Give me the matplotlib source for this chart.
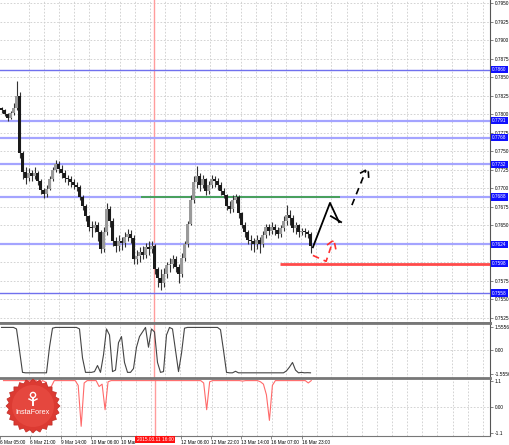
import numpy as np
import matplotlib
matplotlib.use('Agg')
import matplotlib.pyplot as plt
from matplotlib.patches import Polygon, Circle

plt.rcParams['font.family'] = ['Liberation Sans', 'DejaVu Sans']

# hourly bars (bar index 0..103)
close = [0.7806, 0.7800, 0.7795, 0.7801, 0.7808, 0.7825, 0.7748, 0.7722, 0.7714, 0.7720,
         0.7716, 0.7721, 0.7710, 0.7697, 0.7692, 0.7699, 0.7712, 0.7725, 0.7732, 0.7726,
         0.7720, 0.7714, 0.7712, 0.7708, 0.7704, 0.7702, 0.7688, 0.7676, 0.7662, 0.7648,
         0.7646, 0.7650, 0.7640, 0.7618, 0.7640, 0.7672, 0.7655, 0.7628, 0.7622, 0.7628,
         0.7626, 0.7634, 0.7638, 0.7632, 0.7604, 0.7608, 0.7614, 0.7610, 0.7620, 0.7618,
         0.7622, 0.7590, 0.7578, 0.7572, 0.7584, 0.7596, 0.7598, 0.7604, 0.7594, 0.7584,
         0.7606, 0.7624, 0.7652, 0.7684, 0.7708, 0.7716, 0.7704, 0.7712, 0.7696, 0.7704,
         0.7712, 0.7710, 0.7704, 0.7696, 0.7690, 0.7676, 0.7672, 0.7684, 0.7688, 0.7666,
         0.7650, 0.7640, 0.7630, 0.7628, 0.7624, 0.7630, 0.7624, 0.7636, 0.7648, 0.7642,
         0.7648, 0.7644, 0.7638, 0.7646, 0.7656, 0.7664, 0.7660, 0.7646, 0.7650, 0.7640,
         0.7642, 0.7640, 0.7638, 0.7622]
high = [0.7810, 0.7807, 0.7802, 0.7804, 0.7815, 0.7845, 0.7830, 0.7750, 0.7728, 0.7727,
        0.7724, 0.7728, 0.7723, 0.7712, 0.7700, 0.7704, 0.7716, 0.7729, 0.7738, 0.7736,
        0.7731, 0.7725, 0.7718, 0.7716, 0.7712, 0.7708, 0.7704, 0.7690, 0.7678, 0.7664,
        0.7656, 0.7656, 0.7654, 0.7644, 0.7648, 0.7680, 0.7676, 0.7660, 0.7634, 0.7636,
        0.7634, 0.7640, 0.7645, 0.7644, 0.7636, 0.7616, 0.7620, 0.7622, 0.7626, 0.7628,
        0.7628, 0.7624, 0.7594, 0.7590, 0.7592, 0.7600, 0.7606, 0.7610, 0.7608, 0.7598,
        0.7612, 0.7628, 0.7656, 0.7690, 0.7716, 0.7730, 0.7720, 0.7718, 0.7714, 0.7710,
        0.7718, 0.7716, 0.7714, 0.7708, 0.7700, 0.7692, 0.7682, 0.7690, 0.7692, 0.7690,
        0.7668, 0.7654, 0.7644, 0.7636, 0.7632, 0.7636, 0.7634, 0.7642, 0.7652, 0.7652,
        0.7654, 0.7652, 0.7648, 0.7650, 0.7662, 0.7677, 0.7670, 0.7664, 0.7654, 0.7652,
        0.7646, 0.7646, 0.7644, 0.7640]
low = [0.7801, 0.7797, 0.7791, 0.7793, 0.7799, 0.7805, 0.7740, 0.7712, 0.7706, 0.7710,
       0.7709, 0.7712, 0.7704, 0.7692, 0.7686, 0.7688, 0.7697, 0.7709, 0.7722, 0.7720,
       0.7714, 0.7708, 0.7704, 0.7702, 0.7699, 0.7696, 0.7684, 0.7670, 0.7656, 0.7642,
       0.7634, 0.7640, 0.7628, 0.7612, 0.7614, 0.7636, 0.7648, 0.7622, 0.7613, 0.7615,
       0.7616, 0.7620, 0.7628, 0.7626, 0.7598, 0.7598, 0.7600, 0.7604, 0.7606, 0.7610,
       0.7612, 0.7584, 0.7566, 0.7562, 0.7566, 0.7578, 0.7586, 0.7592, 0.7586, 0.7572,
       0.7580, 0.7602, 0.7620, 0.7650, 0.7680, 0.7700, 0.7696, 0.7700, 0.7690, 0.7692,
       0.7700, 0.7702, 0.7698, 0.7690, 0.7686, 0.7670, 0.7666, 0.7668, 0.7680, 0.7660,
       0.7646, 0.7634, 0.7624, 0.7616, 0.7614, 0.7618, 0.7612, 0.7620, 0.7632, 0.7636,
       0.7638, 0.7636, 0.7632, 0.7634, 0.7642, 0.7650, 0.7650, 0.7640, 0.7638, 0.7634,
       0.7636, 0.7634, 0.7632, 0.7612]
first_open = 0.7808

# indicator 1 (black), indicator 2 (red)
osc1 = [1.5, 1.5, 1.5, 1.5, 1.5, 1.4, 0.0, -1.45, -1.48, -1.48,
        -1.48, -1.48, -1.48, -1.48, -1.48, -1.48, 0.2, 1.45, 1.5, 1.5,
        1.5, 1.5, 1.5, 1.5, 1.5, 1.5, 1.4, -0.5, -1.45, -1.45,
        -1.45, -1.4, -1.0, -1.45, -0.3, 1.4, 1.0, -1.4, -1.3, 0.5,
        0.9, -0.8, -1.45, -1.45, -1.2, 0.2, 0.9, 1.2, 1.5, 0.2,
        1.4, 1.2, -0.8, -1.45, -1.4, 1.0, 1.5, 1.4, 0.0, -1.4,
        -0.2, 1.45, 1.5, 1.5, 1.5, 1.5, 1.5, 1.5, 1.5, 1.5,
        1.5, 1.5, 1.5, 1.35, 0.0, -1.45, -1.48, -1.48, -1.38, -1.48,
        -1.48, -1.48, -1.48, -1.48, -1.48, -1.48, -1.48, -1.48, -1.48, -1.48,
        -1.48, -1.48, -1.48, -1.48, -1.48, -1.35, -1.1, -0.8, -1.3, -1.48,
        -1.45, -1.48, -1.47, -1.48]
osc2 = [1.1, 1.1, 1.1, 1.1, 1.1, 1.1, 1.1, 1.1, 1.1, 1.1,
        1.1, 1.1, 0.93, 1.1, 1.05, 0.72, 0.85, 1.1, 1.1, 1.1,
        1.1, 1.1, 1.1, 1.1, 1.1, 0.9, -0.83, 1.0, 1.1, 1.1,
        1.1, 1.1, 0.85, 0.95, -0.13, 1.05, 1.1, 1.1, 1.1, 1.1,
        1.1, 1.1, 1.1, 1.1, 1.1, 1.1, 1.1, 1.1, 1.1, 1.1,
        1.1, 1.1, 1.1, 1.1, 1.1, 1.1, 1.1, 1.1, 1.1, 1.1,
        1.1, 1.1, 1.1, 1.1, 1.1, 1.1, 1.1, 1.0, -0.13, 1.05,
        1.1, 1.1, 1.1, 1.1, 1.1, 1.1, 1.1, 1.1, 1.1, 1.1,
        1.08, 1.1, 1.1, 1.1, 1.1, 1.1, 1.05, 0.95, 0.5, -0.58,
        0.9, 1.1, 1.1, 1.1, 1.1, 1.1, 1.1, 1.1, 1.1, 1.1,
        1.1, 1.1, 1.0, 1.1]

# levels
dark_levels = [0.7860, 0.7558]
light_levels = [0.7791, 0.7768, 0.7732, 0.7688, 0.7624]
red_level = 0.7598
red_level_start = 92.8
green_level = 0.7688
green_span = (46.5, 112.8)
vline_x = 50.8

# forecast sketch
up_x = [103.8, 109.5, 112.5]
up_y = [0.7620, 0.7680, 0.7654]
up_head_x = [109.8, 113.2]
up_head_y = [0.7662, 0.7654]
dash_x = [116.8, 121.5]
dash_y = [0.7677, 0.7724]
dash_head_x = [119.5, 122.2, 122.5]
dash_head_y = [0.7720, 0.7726, 0.7707]
red_x = [103.8, 108.2, 110.5]
red_y = [0.7609, 0.7601, 0.7629]
red_head_x = [108.5, 110.8, 111.5]
red_head_y = [0.7623, 0.7630, 0.7616]

time_ticks = [-1.17, 8.83, 19.17, 29.17, 39.17, 59.5, 69.5, 79.5, 89.5, 99.83]
time_labels = ['6 Mar 05:00', '6 Mar 21:00', '9 Mar 14:00', '10 Mar 06:00', '10 Mar',
               '12 Mar 06:00', '12 Mar 22:00', '13 Mar 14:00', '16 Mar 07:00', '16 Mar 23:00']
vline_label = '2015.03.11 16:00'

W, H = 510, 445
fig = plt.figure(figsize=(W / 100, H / 100), dpi=100)
fig.patch.set_facecolor('white')

def frac(x0, y0, x1, y1):
    return [x0 / W, 1 - y1 / H, (x1 - x0) / W, (y1 - y0) / H]

ax1 = fig.add_axes(frac(0, 0, 490, 323))
ax2 = fig.add_axes(frac(0, 323, 490, 378))
ax3 = fig.add_axes(frac(0, 378, 490, 436))

xlim = (-0.5, 162.83)
gridc = '#cccccc'
fs = 3.4
for ax in (ax1, ax2, ax3):
    ax.set_xlim(*xlim)
    ax.yaxis.tick_right()
    ax.tick_params(axis='y', labelsize=fs, length=2, pad=1.2, width=0.5, color='#555555')
    ax.spines['left'].set_visible(False)
    ax.spines['right'].set_color('#555555')
    ax.spines['right'].set_linewidth(0.8)
    for g in np.arange(9.17, xlim[1], 5.04):
        ax.axvline(g, color=gridc, lw=0.6, ls=(0, (2, 2)), zorder=0)
    ax.axvline(vline_x, color='#ff9c9c', lw=1, zorder=1)

for ax in (ax1, ax2):
    ax.tick_params(axis='x', bottom=False, labelbottom=False)

for ax in (ax2, ax3):
    ax.spines['top'].set_color('#777777')
    ax.spines['top'].set_linewidth(2)
ax1.spines['top'].set_visible(False)
ax1.spines['bottom'].set_color('#777777')
ax1.spines['bottom'].set_linewidth(2)
ax2.spines['bottom'].set_visible(False)
ax3.spines['bottom'].set_color('#777777')

# main price panel
x = np.arange(len(close))
cl = np.array(close)
op = np.r_[first_open, cl[:-1]]
ax1.vlines(x, low, high, color='#333333', lw=0.8, zorder=3)
up = cl >= op
body = np.where(np.abs(cl - op) < 0.00008, 0.00008, cl - op)
ax1.bar(x[up], body[up], bottom=op[up], width=0.75, color='#9a9a9a', zorder=4)
ax1.bar(x[~up], body[~up], bottom=op[~up], width=0.75, color='#1a1a1a', zorder=4)

all_levels = dark_levels + light_levels + [red_level]
ax1.set_ylim(0.75177, 0.79541)
pticks = np.arange(0.7525, 0.79501, 0.0025)
# tick labels hidden behind a level box are left blank, as on the terminal
plabels = ['' if min(abs(t - v) for v in all_levels) < 0.0004 else f'{t:.4f}' for t in pticks]
ax1.set_yticks(pticks, plabels)
for t in pticks:
    ax1.axhline(t, color=gridc, lw=0.6, ls=(0, (2, 2)), zorder=0)

for v in dark_levels:
    ax1.axhline(v, color='#7070ee', lw=1.0, zorder=2)
for v in light_levels:
    ax1.axhline(v, color='#a4a4ff', lw=1.6, zorder=2)
ax1.hlines(green_level, *green_span, color='#2ea02e', lw=1.1, zorder=2)
ax1.hlines(red_level, red_level_start, xlim[1], color='#ff4a4a', lw=2, zorder=2)

ytr = ax1.get_yaxis_transform()
for v in all_levels:
    ax1.text(1.004, v, f'{v:.4f}', transform=ytr, fontsize=fs, color='white',
             ha='left', va='center', clip_on=False, zorder=6,
             bbox=dict(boxstyle='square,pad=0.25', fc='#1010ff', ec='none'))

ax1.plot(up_x, up_y, color='black', lw=1.3, zorder=5)
ax1.plot(up_head_x, up_head_y, color='black', lw=1.3, zorder=5)
ax1.plot(dash_x, dash_y, color='black', lw=1.2, ls=(0, (4, 3)), zorder=5)
ax1.plot(dash_head_x, dash_head_y, color='black', lw=1.2, ls=(0, (4, 3)), zorder=5)
ax1.plot(red_x, red_y, color='#ff3030', lw=1.2, ls=(0, (4, 3)), zorder=5)
ax1.plot(red_head_x, red_head_y, color='#ff3030', lw=1.2, ls=(0, (4, 3)), zorder=5)

# indicator panels
ax2.plot(x, osc1, color='#444444', lw=0.8)
ax2.set_ylim(-1.82, 1.79)
ax2.set_yticks([-1.5556, 0, 1.5556], ['-1.5556', '0.00', '1.5556'])
ax2.axhline(0, color=gridc, lw=0.6, ls=(0, (2, 2)), zorder=0)

ax3.plot(x, osc2, color='#ff6a6a', lw=0.8)
ax3.set_ylim(-1.24, 1.21)
ax3.set_yticks([-1.1, 0, 1.1], ['-1.1', '0.00', '1.1'])
ax3.axhline(0, color=gridc, lw=0.6, ls=(0, (2, 2)), zorder=0)
ax3.set_xticks(time_ticks, time_labels, ha='left')
ax3.tick_params(axis='x', labelsize=fs, length=2, pad=1.2, width=0.5, color='#555555')
ax3.text(vline_x, -0.06, vline_label, transform=ax3.get_xaxis_transform(),
         fontsize=fs, color='white', ha='center', va='center', clip_on=False, zorder=10,
         bbox=dict(boxstyle='square,pad=0.3', fc='#ff1010', ec='none'))

# InstaForex badge
ov = fig.add_axes([0, 0, 1, 1], zorder=20)
ov.set_xlim(0, W)
ov.set_ylim(H, 0)
ov.axis('off')
ang = np.linspace(0, 2 * np.pi, 49)[:-1]
rad = np.where(np.arange(48) % 2 == 0, 27, 24)
star = np.c_[33 + rad * np.cos(ang), 406 + rad * np.sin(ang)]
ov.add_patch(Polygon(star, closed=True, fc='#dc3a32', ec='#c02a24', lw=0.5))
ov.add_patch(Circle((33, 406), 21, fc='#e5473e', ec='none'))
ov.add_patch(Circle((33, 395), 2.6, fc='none', ec='white', lw=1.0))
ov.plot([33, 33], [398, 405], color='white', lw=1.4)
ov.plot([29, 33, 37], [399, 401, 399], color='white', lw=1.0)
ov.text(33, 413, 'InstaForex', color='white', fontsize=5.2, ha='center', va='center')

fig.savefig('out.png', dpi=100, facecolor='white')
